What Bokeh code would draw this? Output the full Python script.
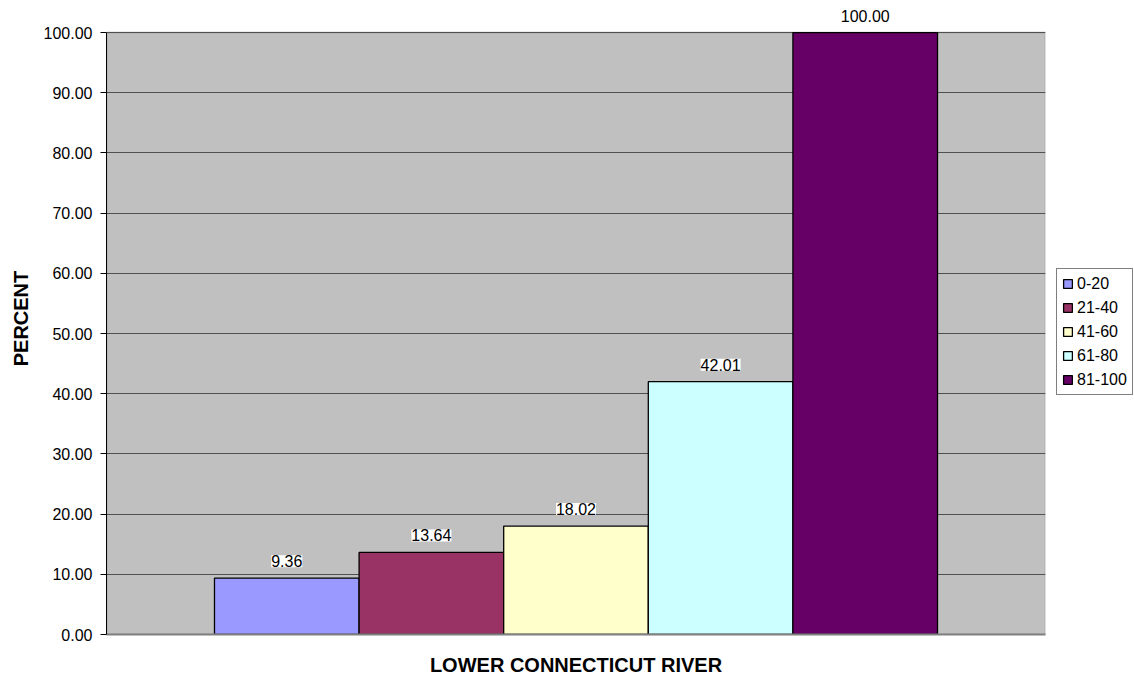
from bokeh.plotting import figure
from bokeh.models import (ColumnDataSource, LabelSet, Legend, LegendItem, FactorRange,
                          NumeralTickFormatter, BoxAnnotation, FixedTicker)
from bokeh.core.properties import value
from bokeh.transform import dodge
from bokeh.embed import file_html
from bokeh.resources import INLINE

category = "LOWER CONNECTICUT RIVER"
series = ["0-20", "21-40", "41-60", "61-80", "81-100"]
values = [9.36, 13.64, 18.02, 42.01, 100.00]
colors = ["#9999FF", "#993366", "#FFFFCC", "#CCFFFF", "#660066"]
y_ticks = [0, 10, 20, 30, 40, 50, 60, 70, 80, 90, 100]
offsets = [-0.308, -0.154, 0.0, 0.154, 0.308]
bar_width = 0.154

FONT = "Liberation Sans"

p = figure(x_range=FactorRange(category, range_padding=0), y_range=(0, 105),
           frame_width=939, frame_height=632, output_backend="svg", toolbar_location=None,
           min_border_left=106, min_border_top=2, min_border_right=89, min_border_bottom=46)
p.background_fill_color = "white"
p.border_fill_color = "white"
p.outline_line_color = None

# grey plot area from 0 to 100
p.add_layout(BoxAnnotation(bottom=0, top=100, fill_color="#C0C0C0", fill_alpha=1,
                           line_color="#808080", line_width=2, level="image"))

items = []
for s, v, c, o in zip(series, values, colors, offsets):
    src = ColumnDataSource(dict(x=[category], y=[v], lab=["%.2f" % v]))
    r = p.vbar(x=dodge("x", o, range=p.x_range), top="y", width=bar_width, source=src,
               fill_color=c, line_color="black", line_width=1.3)
    items.append(LegendItem(label=s, renderers=[r]))
    ls = LabelSet(x=dodge("x", o, range=p.x_range), y="y", text="lab", source=src,
                  text_align="center", text_baseline="bottom", y_offset=11,
                  text_font=value(FONT), text_font_size=value("16px"), text_color="black",
                  background_fill_color="white")
    p.add_layout(ls)

legend = Legend(items=items, location=(11, 239), label_text_font=FONT,
                label_text_font_size="16px", label_text_color="black",
                glyph_width=11, glyph_height=11,
                label_height=19, label_standoff=4, spacing=5, padding=5, margin=12,
                border_line_color="black", border_line_width=1,
                background_fill_color="white", background_fill_alpha=1)
p.add_layout(legend, "right")

p.yaxis.ticker = FixedTicker(ticks=y_ticks)
p.yaxis.bounds = (0, 100)
p.yaxis.formatter = NumeralTickFormatter(format="0.00")
p.yaxis.axis_label = "PERCENT"
p.yaxis.axis_label_text_font = FONT
p.yaxis.axis_label_text_font_size = "20px"
p.yaxis.axis_label_text_font_style = "bold"
p.yaxis.axis_label_text_color = "black"
p.yaxis.axis_label_standoff = 9
p.yaxis.major_label_text_font = FONT
p.yaxis.major_label_text_font_size = "16px"
p.yaxis.major_label_text_color = "black"
p.yaxis.major_label_standoff = 8
p.yaxis.major_tick_out = 6
p.yaxis.major_tick_in = 0
p.yaxis.minor_tick_line_color = None
p.yaxis.axis_line_color = "black"
p.yaxis.major_tick_line_color = "black"

p.xaxis.major_tick_line_color = None
p.xaxis.major_label_text_font = FONT
p.xaxis.major_label_text_font_size = "20px"
p.xaxis.major_label_text_font_style = "bold"
p.xaxis.major_label_text_color = "black"
p.xaxis.major_label_standoff = 13
p.xaxis.axis_line_color = "#808080"
p.xaxis.axis_line_width = 2

p.xgrid.grid_line_color = None
p.ygrid.grid_line_color = "#505050"
p.ygrid.grid_line_width = 1

open("out.html", "w").write(file_html(p, INLINE))
